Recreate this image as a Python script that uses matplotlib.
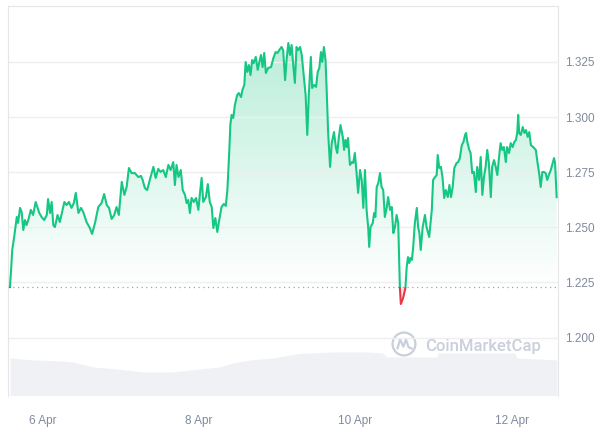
import numpy as np
import pandas as pd
import matplotlib as mpl
mpl.use('Agg')
import matplotlib.pyplot as plt
import matplotlib.dates as mdates
from matplotlib.patches import Rectangle, Circle, Polygon
from matplotlib.colors import LinearSegmentedColormap

# Price series (hours since 5 Apr 14:00, price in USD)
hours = [0.0, 0.3, 0.7, 1.3, 2.1, 2.5, 3.1, 3.6, 4.1, 4.6,
         5.1, 5.8, 6.4, 7.1, 7.9, 8.5, 9.0, 9.7, 10.5, 11.3,
         11.7, 12.3, 12.8, 13.3, 13.8, 14.6, 15.3, 16.0, 16.7, 17.4,
         18.1, 18.9, 19.6, 20.2, 21.0, 21.8, 22.5, 23.5, 24.5, 25.2,
         26.1, 27.1, 28.1, 28.9, 29.7, 30.4, 31.2, 32.0, 32.7, 33.4,
         34.3, 35.1, 35.8, 36.5, 37.3, 38.3, 39.4, 40.2, 40.7, 41.4,
         42.1, 42.9, 44.0, 44.7, 45.5, 46.2, 47.0, 47.8, 48.6, 49.3,
         50.1, 50.6, 51.1, 51.7, 52.4, 53.0, 53.7, 54.2, 54.7, 55.2,
         55.7, 56.4, 57.1, 57.8, 58.3, 58.8, 59.3, 60.1, 60.7, 61.3,
         61.9, 62.4, 63.0, 63.6, 64.2, 64.9, 65.6, 66.2, 66.7, 67.3,
         67.6, 68.0, 68.5, 69.0, 69.7, 70.2, 70.9, 71.3, 71.9, 72.3,
         72.8, 73.3, 73.8, 74.3, 74.8, 75.4, 76.0, 76.5, 77.0, 77.5,
         78.0, 78.5, 79.2, 80.1, 80.8, 81.5, 82.1, 82.6, 83.3, 83.8,
         84.4, 84.9, 85.4, 85.9, 86.4, 86.9, 87.4, 87.9, 88.4, 89.0,
         89.5, 90.2, 90.7, 91.2, 91.7, 92.3, 92.7, 93.3, 93.9, 94.4,
         94.9, 95.4, 95.8, 96.3, 96.8, 97.1, 97.6, 98.2, 98.7, 99.4,
         100.0, 100.4, 100.9, 101.4, 102.1, 102.5, 102.9, 103.3, 103.7, 104.3,
         104.9, 105.3, 105.8, 106.3, 106.8, 107.4, 107.9, 108.4, 108.9, 109.4,
         109.9, 110.2, 110.6, 111.3, 111.7, 112.1, 112.5, 113.0, 113.5, 114.0,
         114.5, 115.0, 115.6, 116.0, 116.6, 117.1, 117.6, 118.1, 118.6, 119.1,
         119.6, 119.9, 120.6, 121.3, 121.7, 122.1, 122.5, 122.9, 123.3, 123.7,
         124.2, 124.8, 125.2, 125.6, 126.0, 126.6, 127.3, 127.8, 128.6, 129.4,
         129.8, 130.4, 130.9, 131.2, 131.7, 132.2, 132.7, 133.2, 133.7, 134.3,
         134.8, 135.3, 135.8, 136.3, 137.0, 137.5, 138.0, 138.6, 139.1, 139.6,
         139.9, 140.3, 140.9, 141.3, 141.8, 142.3, 142.9, 143.3, 143.9, 144.4,
         144.9, 145.4, 145.9, 146.4, 146.9, 147.5, 147.9, 148.5, 149.0, 149.5,
         150.0, 150.5, 151.0, 151.5, 152.1, 152.5, 153.1, 153.6, 154.2, 154.7,
         155.2, 155.6, 155.9, 156.2, 156.7, 157.3, 157.8, 158.3, 158.8, 159.3,
         159.8, 160.5, 161.3, 161.8, 162.4, 162.8, 163.3, 163.8, 164.3, 164.8,
         165.3, 165.9, 166.5, 166.9, 167.2, 167.7]

prices = [1.2229, 1.2293, 1.2397, 1.2456, 1.2547, 1.2520, 1.2588, 1.2569, 1.2488, 1.2533,
          1.2510, 1.2542, 1.2579, 1.2556, 1.2615, 1.2588, 1.2565, 1.2547, 1.2533, 1.2556,
          1.2628, 1.2565, 1.2615, 1.2510, 1.2501, 1.2556, 1.2524, 1.2569, 1.2615, 1.2601,
          1.2615, 1.2588, 1.2610, 1.2656, 1.2565, 1.2588, 1.2569, 1.2524, 1.2497, 1.2470,
          1.2520, 1.2592, 1.2610, 1.2651, 1.2601, 1.2588, 1.2538, 1.2556, 1.2592, 1.2556,
          1.2706, 1.2647, 1.2683, 1.2769, 1.2746, 1.2746, 1.2728, 1.2733, 1.2715, 1.2678,
          1.2669, 1.2715, 1.2774, 1.2724, 1.2765, 1.2751, 1.2760, 1.2728, 1.2783, 1.2760,
          1.2796, 1.2692, 1.2783, 1.2728, 1.2760, 1.2669, 1.2647, 1.2610, 1.2624, 1.2565,
          1.2633, 1.2615, 1.2633, 1.2579, 1.2656, 1.2724, 1.2615, 1.2637, 1.2696, 1.2615,
          1.2592, 1.2497, 1.2542, 1.2479, 1.2533, 1.2592, 1.2606, 1.2597, 1.2669, 1.2851,
          1.2964, 1.3010, 1.2996, 1.3055, 1.3100, 1.3109, 1.3091, 1.3123, 1.3146, 1.3250,
          1.3205, 1.3236, 1.3191, 1.3259, 1.3245, 1.3273, 1.3214, 1.3250, 1.3282, 1.3227,
          1.3291, 1.3200, 1.3223, 1.3227, 1.3268, 1.3295, 1.3291, 1.3304, 1.3318, 1.3304,
          1.3168, 1.3268, 1.3336, 1.3282, 1.3327, 1.3236, 1.3155, 1.3318, 1.3304, 1.3318,
          1.3282, 1.3177, 1.3100, 1.2919, 1.3109, 1.3273, 1.3132, 1.3146, 1.3137, 1.3205,
          1.3223, 1.3295, 1.3250, 1.3318, 1.3259, 1.3146, 1.2932, 1.2774, 1.2882, 1.2932,
          1.2860, 1.2837, 1.2910, 1.2964, 1.2910, 1.2851, 1.2896, 1.2864, 1.2905, 1.2783,
          1.2796, 1.2792, 1.2837, 1.2751, 1.2656, 1.2760, 1.2715, 1.2588, 1.2760, 1.2579,
          1.2497, 1.2411, 1.2501, 1.2520, 1.2565, 1.2547, 1.2683, 1.2701, 1.2746, 1.2683,
          1.2669, 1.2547, 1.2592, 1.2637, 1.2579, 1.2592, 1.2474, 1.2501, 1.2556, 1.2520,
          1.2229, 1.2152, 1.2179, 1.2225, 1.2320, 1.2365, 1.2338, 1.2361, 1.2352, 1.2411,
          1.2520, 1.2588, 1.2501, 1.2474, 1.2397, 1.2501, 1.2556, 1.2501, 1.2456, 1.2579,
          1.2715, 1.2728, 1.2737, 1.2828, 1.2769, 1.2774, 1.2724, 1.2633, 1.2669, 1.2637,
          1.2692, 1.2637, 1.2683, 1.2769, 1.2792, 1.2796, 1.2814, 1.2873, 1.2887, 1.2919,
          1.2928, 1.2887, 1.2851, 1.2837, 1.2746, 1.2751, 1.2660, 1.2774, 1.2715, 1.2819,
          1.2647, 1.2728, 1.2774, 1.2851, 1.2792, 1.2637, 1.2774, 1.2805, 1.2774, 1.2737,
          1.2814, 1.2882, 1.2851, 1.2864, 1.2796, 1.2864, 1.2837, 1.2882, 1.2864, 1.2887,
          1.2896, 1.2928, 1.3010, 1.2928, 1.2919, 1.2955, 1.2928, 1.2941, 1.2910, 1.2932,
          1.2873, 1.2864, 1.2851, 1.2796, 1.2737, 1.2683, 1.2751, 1.2751, 1.2746, 1.2715,
          1.2737, 1.2760, 1.2792, 1.2814, 1.2792, 1.2637]

# Volume (hours since start, millions USD)
vol_hours = [0.0, 7.1, 15.3, 19.3, 25.5, 32.8, 40.8, 50.0, 58.3, 64.4, 68.4, 73.6,
             80.7, 85.9, 89.0, 99.1, 109.5, 114.4, 115.6, 131.0, 131.3, 154.9, 155.5, 167.8]
volume = [56.3, 53.3, 51.8, 50.3, 42.8, 39.8, 35.3, 35.3, 39.8, 42.8, 48.8, 53.3,
          56.3, 60.8, 63.0, 65.3, 65.3, 63.8, 57.8, 57.8, 63.8, 63.8, 56.3, 53.3]

start = '2024-04-05 14:00'
price_ticks = [1.200, 1.225, 1.250, 1.275, 1.300, 1.325]
date_ticks = ['2024-04-06', '2024-04-08', '2024-04-10', '2024-04-12']
date_labels = ['6 Apr', '8 Apr', '10 Apr', '12 Apr']

GREEN = '#16c784'
RED = '#ea3943'
GREY = '#808a9d'

plt.rcParams['font.family'] = ['Liberation Sans', 'DejaVu Sans']

t0 = mdates.date2num(pd.Timestamp(start).to_pydatetime())
t = t0 + np.array(hours) / 24.0
p = np.array(prices)
vt = t0 + np.array(vol_hours) / 24.0
baseline = p[0]

fig = plt.figure(figsize=(6, 4.33), dpi=100)
ax = fig.add_axes([8.3 / 600, 37.5 / 433, 550 / 600, 389.5 / 433])
vax = ax.twinx()
ax.set_zorder(vax.get_zorder() + 1)
ax.patch.set_visible(False)

# volume in background
vax.fill_between(vt, volume, 0, color='#eff1f4', lw=0)
vax.set_ylim(0, 584)
vax.set_yticks([])
for s in vax.spines.values():
    s.set_visible(False)

# gradient fill under price line
cmap = LinearSegmentedColormap.from_list('g', [(0.086, 0.78, 0.518, 0.0),
                                              (0.086, 0.78, 0.518, 0.30)])
grad = np.linspace(0, 1, 256).reshape(-1, 1)
im = ax.imshow(grad, extent=[t[0], t[-1], baseline, p.max()], origin='lower',
               aspect='auto', cmap=cmap, zorder=1)
verts = [(t[0], baseline)] + list(zip(t, np.maximum(p, baseline))) + [(t[-1], baseline)]
clip = Polygon(verts, closed=True, facecolor='none', edgecolor='none')
ax.add_patch(clip)
im.set_clip_path(clip)

ax.fill_between(t, p, baseline, where=p < baseline, interpolate=True,
                color=RED, alpha=0.12, lw=0, zorder=1)

# price line: green above baseline, red below
up, = ax.plot(t, p, color=GREEN, lw=1.5, zorder=3)
up.set_clip_path(Rectangle((t[0] - 1, baseline), 10, 1, transform=ax.transData))
dn, = ax.plot(t, p, color=RED, lw=1.5, zorder=3)
dn.set_clip_path(Rectangle((t[0] - 1, baseline - 1), 10, 1, transform=ax.transData))

ax.axhline(baseline, color='#9ea3ad', lw=0.9, ls=(0, (1, 2.8)), zorder=2)

ax.set_xlim(t0 - 0.5 / 24, t0 + 168.2 / 24)
ax.set_ylim(1.1737, 1.3504)
ax.yaxis.tick_right()
ax.set_yticks(price_ticks)
ax.set_yticklabels(['%.3f' % v for v in price_ticks])
ax.set_xticks(mdates.date2num(pd.to_datetime(date_ticks).to_pydatetime()))
ax.set_xticklabels(date_labels)
ax.grid(axis='y', color='#efefef', lw=1, zorder=0)
ax.tick_params(axis='y', length=0, pad=5, labelsize=8.5, labelcolor=GREY)
ax.tick_params(axis='x', length=0, pad=14, labelsize=8.5, labelcolor=GREY)
for side in ['left', 'right', 'top']:
    ax.spines[side].set_color('#e6e6e6')
ax.spines['bottom'].set_visible(False)

# watermark
fig.text(425 / 600, 1 - 346 / 433, 'CoinMarketCap', ha='left', va='center',
         fontsize=12, color='#c9cfdb', family='Roboto', weight='medium')
lax = fig.add_axes([391 / 600, 1 - 357 / 433, 26 / 600, 26 / 433])
lax.set_xlim(-1, 1)
lax.set_ylim(-1, 1)
lax.axis('off')
lax.add_patch(Circle((0, 0), 0.88, fill=False, ec='#c9cfdb', lw=1.6))
lax.plot([-0.5, -0.3, -0.05, 0.15, 0.35, 0.6], [-0.35, 0.35, -0.2, 0.35, -0.25, -0.35],
         color='#c9cfdb', lw=1.6, solid_capstyle='round', solid_joinstyle='round')

fig.savefig('out.png', dpi=100)
